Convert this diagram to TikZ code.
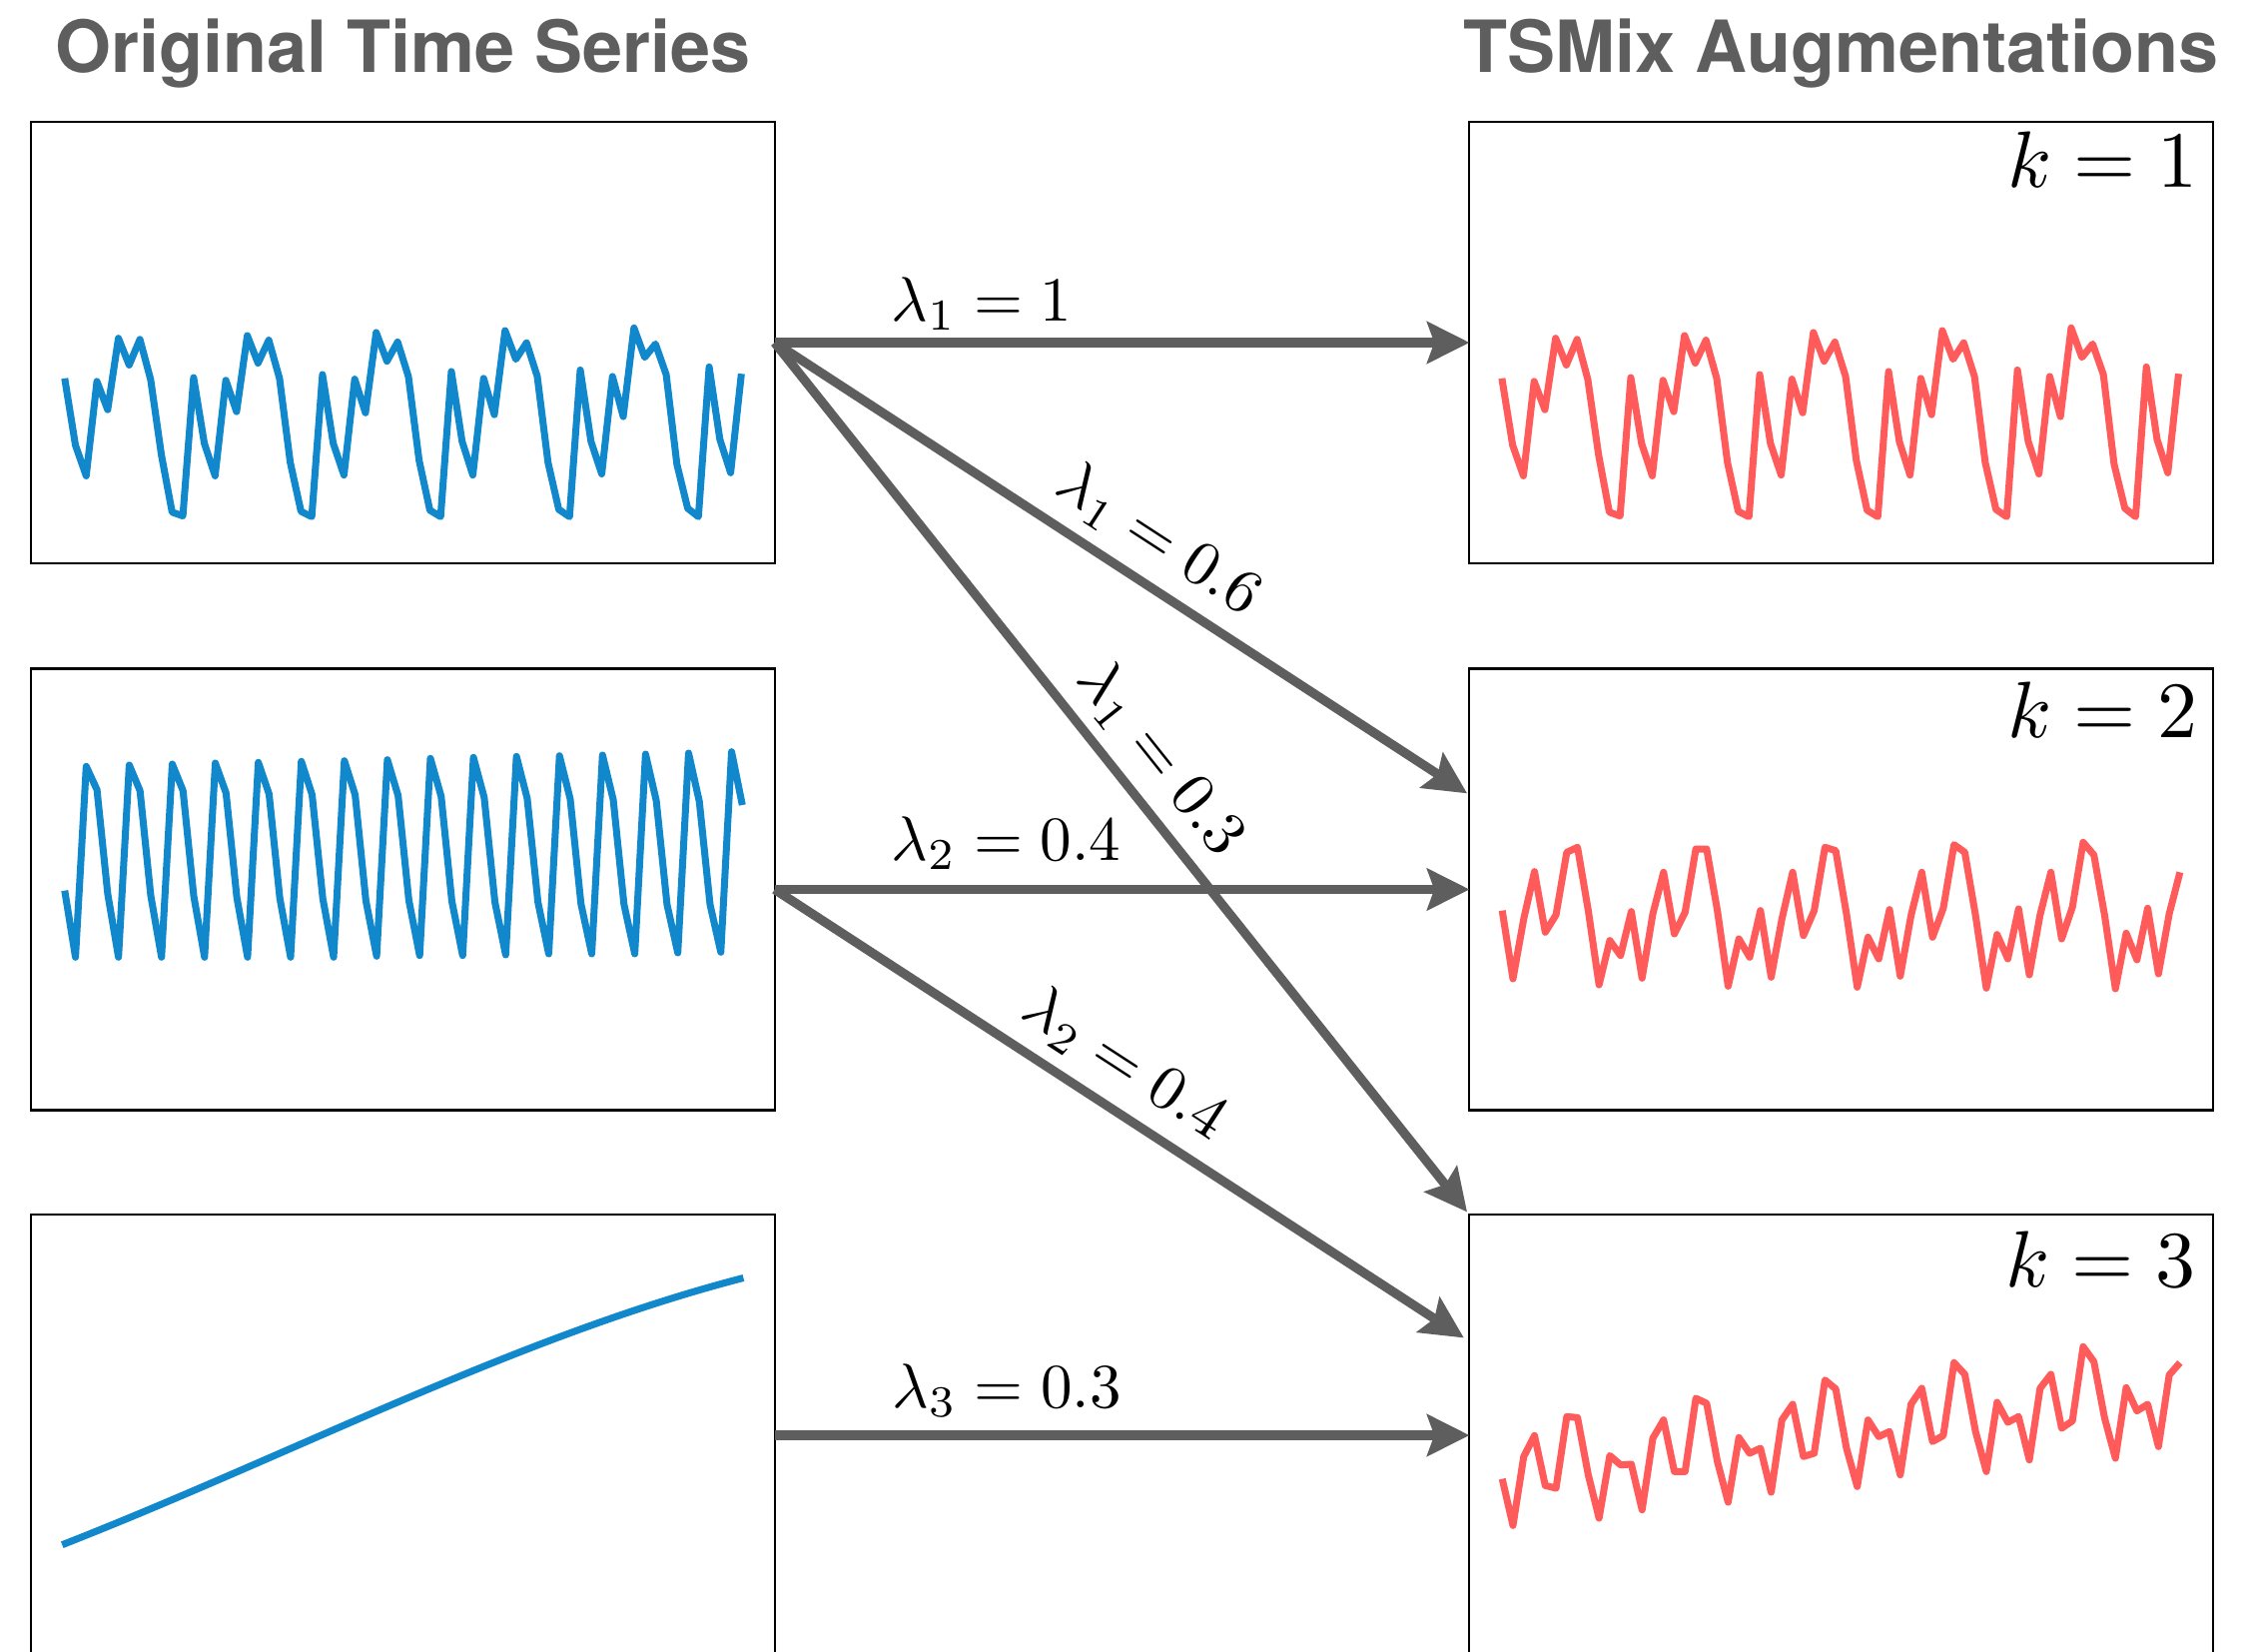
\documentclass[tikz,border=0pt]{standalone}
\usepackage{fontspec}
\newfontfamily\titlefont{TeX Gyre Heros}
\usetikzlibrary{arrows.meta,calc}
\definecolor{arrowgrey}{RGB}{94,94,94}
\definecolor{seriesblue}{RGB}{17,136,204}
\definecolor{seriesred}{RGB}{255,91,91}
\def\tsone{1165,1245,998,1072,885,955,888,993,1190,1340,1350,
988,1160,1245,995,1077,878,950,890,990,1210,1338,1352,
980,1160,1243,992,1080,870,945,895,985,1205,1335,1352,
972,1155,1243,990,1085,865,940,897,985,1210,1333,1352,
968,1155,1240,985,1090,858,935,900,980,1215,1330,1352,
960,1150,1237,978}
\def\tstwo{955,382,452,765,955,378,455,770,955,375,455,772,955,372,462,
775,955,370,465,778,955,367,467,780,955,365,467,785,952,362,470,
785,950,358,472,788,950,355,475,790,948,352,478,790,945,350,480,
795,945,348,482,797,945,345,485,797,942,342,487,797,940,338,498}
\def\tsmixtwo{1020,840,698,880,828,640,625,815,1038,905,950,
818,1018,825,700,885,820,630,630,815,1042,900,955,
815,1015,840,700,890,815,625,635,825,1045,895,960,
812,1012,830,700,895,808,617,640,830,1048,887,960,
810,1008,828,700,900,805,610,648,830,1050,883,963,
808,1005,825,700}
\def\tsmixthree{982,775,712,862,870,655,658,830,960,772,800,
798,935,720,665,820,820,600,615,790,912,718,765,
750,882,665,618,775,765,545,572,750,865,665,715,
700,830,618,570,730,712,493,528,700,820,612,672,
655,785,570,528,690,668,445,490,660,780,568,638,
618,745,530,493}
\begin{document}
\begin{tikzpicture}[x=0.5pt, y=-0.5pt,
  panel/.style={draw=black, line width=1.1pt, minimum width=372.4pt, minimum height=221pt, inner sep=0pt, outer sep=0pt},
  title/.style={text=arrowgrey, font=\titlefont\bfseries\fontsize{36}{43}\selectfont, inner sep=0pt, anchor=base},
  klabel/.style={font=\normalsize, scale=4.0, inner sep=0pt, anchor=base east},
  lam/.style={font=\normalsize, scale=3.15, inner sep=0pt},
  mixarrow/.style={draw=arrowgrey, line width=4.6pt, -{Stealth[length=21.5pt, width=21.7pt, inset=4pt, line width=0pt]}},
  blueline/.style={draw=seriesblue, line width=3.5pt, line join=round, line cap=butt},
  redline/.style={draw=seriesred, line width=3.5pt, line join=round, line cap=butt}
]
\fill[white] (0,0) rectangle (2259,1654);
\useasboundingbox (0,0) rectangle (2259,1654);

% titles
\node[title] (t1) at (403.3,72.7) {Original Time Series};
\node[title] (t2) at (1843.6,72.7) {TSMix Augmentations};

% panels
\node[panel] (L1) at (403.3,343) {};
\node[panel] (L2) at (403.3,890.5) {};
\node[panel] (L3) at (403.3,1437) {};
\node[panel] (R1) at (1843.6,343) {};
\node[panel] (R2) at (1843.6,890.5) {};
\node[panel] (R3) at (1843.6,1437) {};

% original series
\begin{scope}[xscale=0.5102, yscale=0.38266]
  \draw[blueline] (127,990) \foreach \yy [count=\ii] in \tsone { -- ({127+21.08*\ii},\yy) };
\end{scope}
\begin{scope}[shift={(0,640)}, xscale=0.5102, yscale=0.33333]
  \draw[blueline] (127,755) \foreach \yy [count=\ii] in \tstwo { -- ({127+21.11*\ii},\yy) };
\end{scope}
\begin{scope}[shift={(0,1200)}, xscale=0.5102, yscale=0.33333]
  \draw[blueline] plot[domain=0:1, samples=80, smooth] ({122+1338*\x},{1040-802*(\x+0.34*\x*\x*(1-\x))});
\end{scope}

% augmented series
\begin{scope}[shift={(1439.1,0)}, xscale=0.5102, yscale=0.38266]
  \draw[redline] (127,990) \foreach \yy [count=\ii] in \tsone { -- ({127+21.08*\ii},\yy) };
\end{scope}
\begin{scope}[shift={(1450,640)}, xscale=0.51616, yscale=0.33333]
  \draw[redline] (105,815) \foreach \yy [count=\ii] in \tsmixtwo { -- ({105+20.87*\ii},\yy) };
\end{scope}
\begin{scope}[shift={(1450,1200)}, xscale=0.51616, yscale=0.33333]
  \draw[redline] (105,842) \foreach \yy [count=\ii] in \tsmixthree { -- ({105+20.87*\ii},\yy) };
\end{scope}

% k labels
\node[klabel] (k1) at ($(R1.north east)+(-13.5,65.5)$) {$k = 1$};
\node[klabel] (k2) at ($(R2.north east)+(-13.5,69.2)$) {$k = 2$};
\node[klabel] (k3) at ($(R3.north east)+(-15.5,72.3)$) {$k = 3$};

% arrow targets
\coordinate (T2) at ($(R2.west)+(-2.3,-96.3)$);
\coordinate (T3) at ($(R3.north west)+(-2.3,-2.7)$);
\coordinate (T5) at ($(R3.west)+(-5.6,-97.7)$);

% arrows
\draw[mixarrow] (L1.east) -- (R1.west);
\draw[mixarrow] (L1.east) -- (T2);
\draw[mixarrow] (L1.east) -- (T3);
\draw[mixarrow] (L2.east) -- (R2.west);
\draw[mixarrow] (L2.east) -- (T5);
\draw[mixarrow] (L3.east) -- (R3.west);

% weight labels
\node[lam, anchor=base west] (lab1) at ($(L1.east)+(115.7,-21.7)$) {$\lambda_1 = 1$};
\node[lam, anchor=base west] (lab4) at ($(L2.east)+(115.7,-29.3)$) {$\lambda_2 = 0.4$};
\node[lam, anchor=base west] (lab6) at ($(L3.east)+(116.5,-27.5)$) {$\lambda_3 = 0.3$};
\node[lam, rotate=-33.0] (lab2) at ($(L1.east)!0.52!(T2)!22pt!90:(T2)$) {$\lambda_1 = 0.6$};
\node[lam, rotate=-51.44] (lab3) at ($(L1.east)!0.509!(T3)!21.2pt!90:(T3)$) {$\lambda_1 = 0.3$};
\node[lam, rotate=-33.02] (lab5) at ($(L2.east)!0.473!(T5)!22.2pt!90:(T5)$) {$\lambda_2 = 0.4$};
\end{tikzpicture}
\end{document}
